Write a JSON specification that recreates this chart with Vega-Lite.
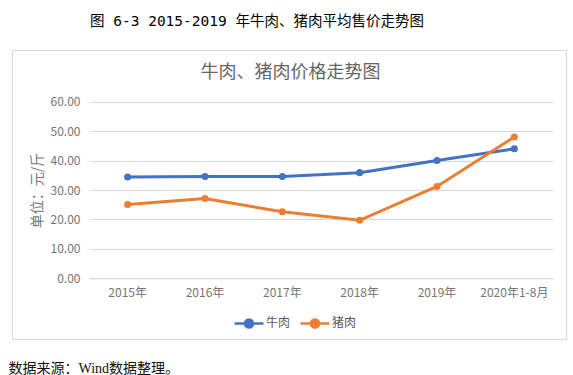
{
  "$schema": "https://vega.github.io/schema/vega-lite/v6.json",
  "width": 554,
  "height": 289,
  "autosize": {"type": "none"},
  "padding": {"left": 12, "top": 50, "right": 7, "bottom": 36},
  "background": "white",
  "title": {
    "text": "图 6-3 2015-2019 年牛肉、猪肉平均售价走势图",
    "anchor": "start",
    "frame": "group",
    "dx": 78,
    "offset": 14,
    "baseline": "middle",
    "font": "DejaVu Sans Mono, Noto Sans CJK SC",
    "fontSize": 14.5,
    "fontWeight": "normal",
    "color": "#000000"
  },
  "config": {
    "view": {"stroke": "#d9d9d9", "strokeWidth": 1},
    "font": "Noto Sans CJK SC"
  },
  "data": {
    "values": [
      {"year": "2015年", "type": "牛肉", "price": 34.4},
      {"year": "2016年", "type": "牛肉", "price": 34.6},
      {"year": "2017年", "type": "牛肉", "price": 34.6},
      {"year": "2018年", "type": "牛肉", "price": 35.9},
      {"year": "2019年", "type": "牛肉", "price": 40.0},
      {"year": "2020年1-8月", "type": "牛肉", "price": 44.0},
      {"year": "2015年", "type": "猪肉", "price": 25.1},
      {"year": "2016年", "type": "猪肉", "price": 27.1},
      {"year": "2017年", "type": "猪肉", "price": 22.6},
      {"year": "2018年", "type": "猪肉", "price": 19.7},
      {"year": "2019年", "type": "猪肉", "price": 31.2},
      {"year": "2020年1-8月", "type": "猪肉", "price": 48.0}
    ]
  },
  "encoding": {
    "y": {
      "field": "price",
      "type": "quantitative",
      "scale": {"domain": [0, 60], "range": [228.3, 51.7], "nice": false},
      "axis": {
        "values": [0, 10, 20, 30, 40, 50, 60],
        "format": ".2f",
        "offset": -77,
        "domain": false,
        "ticks": false,
        "labelPadding": 9,
        "labelFontSize": 12,
        "labelColor": "#757575",
        "gridColor": "#d9d9d9",
        "gridWidth": 1,
        "title": "单位：元/斤",
        "titleX": -51.5,
        "titleBaseline": "middle",
        "titleFontSize": 14,
        "titleFontWeight": "normal",
        "titleColor": "#757575"
      }
    },
    "color": {
      "field": "type",
      "type": "nominal",
      "scale": {"domain": ["牛肉", "猪肉"], "range": ["#4472C4", "#ED7D31"]},
      "legend": {
        "orient": "none",
        "legendX": 221,
        "legendY": 257,
        "direction": "horizontal",
        "title": null,
        "symbolType": "M-1,0L1,0M-0.28,0A0.28,0.28 0 1,1 0.28,0A0.28,0.28 0 1,1 -0.28,0",
        "symbolSize": 841,
        "symbolStrokeWidth": 2.5,
        "labelFontSize": 12,
        "labelColor": "#595959",
        "labelOffset": 1,
        "columnPadding": 4,
        "padding": 0,
        "encode": {
          "symbols": {
            "update": {
              "fill": {"scale": "color", "field": "value"},
              "stroke": {"scale": "color", "field": "value"},
              "opacity": {"value": 1},
              "fillOpacity": {"value": 1}
            }
          }
        }
      }
    }
  },
  "layer": [
    {
      "mark": {"type": "line", "strokeWidth": 3},
      "encoding": {
        "x": {
          "field": "year",
          "type": "nominal",
          "sort": null,
          "bandPosition": 0.5,
          "scale": {"type": "band", "range": [77, 541], "paddingInner": 0, "paddingOuter": 0},
          "axis": {
            "orient": "bottom",
            "offset": -60.7,
            "labelAngle": 0,
            "ticks": false,
            "grid": false,
            "domainColor": "#d9d9d9",
            "domainWidth": 1,
            "labelPadding": 9,
            "labelFontSize": 12,
            "labelColor": "#757575",
            "title": "数据来源：Wind数据整理。",
            "titleX": -4,
            "titleY": 89.7,
            "titleAlign": "left",
            "titleAnchor": "start",
            "titleBaseline": "middle",
            "titleFont": "Liberation Serif, Noto Sans CJK SC",
            "titleFontSize": 14,
            "titleFontWeight": "normal",
            "titleColor": "#111111"
          }
        }
      }
    },
    {
      "mark": {"type": "point", "filled": true, "size": 50, "opacity": 1},
      "encoding": {
        "x": {
          "field": "year",
          "type": "nominal",
          "sort": null,
          "bandPosition": 0.5,
          "axis": {
            "orient": "top",
            "labels": false,
            "ticks": false,
            "domain": false,
            "grid": false,
            "title": "牛肉、猪肉价格走势图",
            "titleX": 278,
            "titleY": 22,
            "titleAlign": "center",
            "titleBaseline": "middle",
            "titleFontSize": 18,
            "titleFontWeight": "normal",
            "titleColor": "#666666"
          }
        }
      }
    }
  ]
}
